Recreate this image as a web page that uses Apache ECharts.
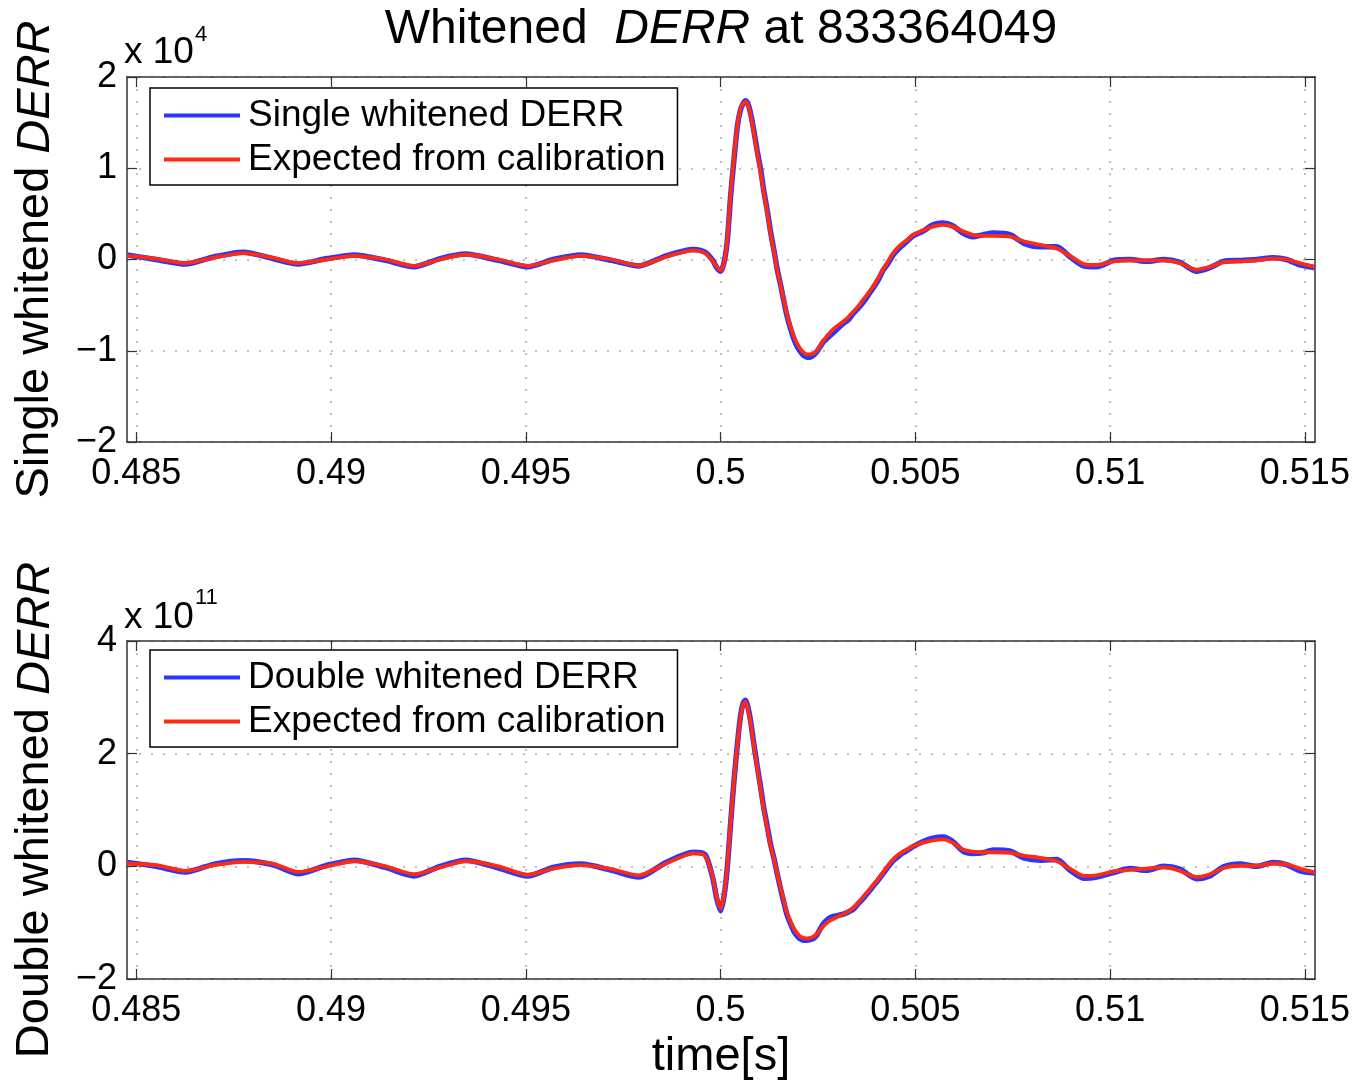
<!DOCTYPE html>
<html><head><meta charset="utf-8">
<script src="https://cdn.jsdelivr.net/npm/echarts@6/dist/echarts.min.js"></script>
<style>html,body{margin:0;padding:0;background:#fff}#c{width:1356px;height:1082px}</style>
</head><body><div id="c"></div>
<script>
// time [s]
const time = [
  0.48476, 0.4855, 0.48626, 0.4870, 0.48775, 0.4885, 0.48915, 0.4899, 0.4906, 0.4914,
  0.49213, 0.4928, 0.49345, 0.4943, 0.49505, 0.4957, 0.49642, 0.4972, 0.4979, 0.4986,
  0.4993, 0.4996, 0.4998, 0.4999, 0.5000, 0.50009, 0.50017, 0.50026, 0.50034, 0.50043,
  0.50051, 0.50058, 0.50064, 0.5007, 0.50077, 0.50085, 0.50094, 0.50103, 0.50111, 0.5012,
  0.50128, 0.50137, 0.50145, 0.50154, 0.50162, 0.5017, 0.50179, 0.50188, 0.50196, 0.50205,
  0.50213, 0.50222, 0.5023, 0.50238, 0.50247, 0.50255, 0.50264, 0.50277, 0.5029, 0.50302,
  0.50315, 0.50328, 0.50341, 0.50354, 0.50366, 0.50379, 0.50392, 0.50405, 0.50417, 0.5043,
  0.50443, 0.50455, 0.50468, 0.50481, 0.50494, 0.5052, 0.50545, 0.50571, 0.50596, 0.50622,
  0.50647, 0.50673, 0.5070, 0.50744, 0.50778, 0.50821, 0.50863, 0.50897, 0.50932, 0.50966,
  0.51009, 0.51051, 0.51094, 0.51137, 0.51179, 0.51222, 0.51256, 0.51291, 0.51333, 0.51376,
  0.51419, 0.51453, 0.51487, 0.51526
];
// Single whitened DERR (x 10^4)
const singleMeasured = [
  0.05, 0.00, -0.05, 0.03, 0.08, 0.01, -0.05, 0.01, 0.05, -0.01,
  -0.08, 0.01, 0.06, -0.01, -0.08, 0.00, 0.05, -0.01, -0.07, 0.04,
  0.11, 0.08, -0.01, -0.09, -0.13, -0.03, 0.20, 0.71, 1.08, 1.46,
  1.64, 1.71, 1.74, 1.71, 1.60, 1.42, 1.19, 0.98, 0.75, 0.53,
  0.31, 0.10, -0.10, -0.28, -0.45, -0.61, -0.75, -0.87, -0.95, -1.01,
  -1.05, -1.07, -1.07, -1.05, -1.01, -0.96, -0.90, -0.85, -0.80, -0.75,
  -0.70, -0.66, -0.59, -0.53, -0.47, -0.39, -0.31, -0.22, -0.12, -0.04,
  0.05, 0.11, 0.16, 0.21, 0.26, 0.31, 0.38, 0.40, 0.37, 0.29,
  0.25, 0.27, 0.29, 0.27, 0.18, 0.14, 0.14, 0.03, -0.07, -0.08,
  -0.01, 0.00, -0.02, 0.00, -0.03, -0.13, -0.09, -0.02, -0.01, 0.00,
  0.02, 0.00, -0.06, -0.09
];
const singleExpected = [
  0.04, 0.01, -0.04, 0.02, 0.07, 0.02, -0.04, 0.00, 0.04, 0.00,
  -0.07, 0.00, 0.055, 0.00, -0.07, -0.01, 0.04, 0.00, -0.066, 0.03,
  0.10, 0.07, -0.02, -0.08, -0.12, -0.04, 0.22, 0.73, 1.10, 1.47,
  1.65, 1.71, 1.73, 1.70, 1.58, 1.40, 1.17, 0.95, 0.73, 0.51,
  0.29, 0.09, -0.11, -0.28, -0.44, -0.59, -0.73, -0.84, -0.92, -0.98,
  -1.02, -1.04, -1.04, -1.03, -1.00, -0.95, -0.89, -0.82, -0.76, -0.72,
  -0.68, -0.63, -0.57, -0.51, -0.44, -0.37, -0.29, -0.20, -0.11, -0.02,
  0.07, 0.13, 0.18, 0.22, 0.27, 0.32, 0.36, 0.38, 0.36, 0.31,
  0.27, 0.26, 0.26, 0.25, 0.20, 0.16, 0.12, 0.04, -0.05, -0.06,
  -0.02, -0.01, -0.01, -0.01, -0.04, -0.11, -0.08, -0.03, -0.02, -0.01,
  0.01, 0.00, -0.04, -0.08
];
// Double whitened DERR (x 10^11)
const doubleMeasured = [
  0.07, 0.00, -0.10, 0.04, 0.10, 0.03, -0.13, 0.02, 0.11, -0.02,
  -0.17, 0.00, 0.11, -0.03, -0.17, -0.02, 0.04, -0.07, -0.19, 0.07,
  0.25, 0.21, -0.21, -0.57, -0.79, -0.52, -0.03, 0.79, 1.49, 2.16,
  2.66, 2.90, 2.95, 2.83, 2.58, 2.19, 1.78, 1.39, 1.03, 0.70,
  0.40, 0.14, -0.12, -0.40, -0.63, -0.85, -1.01, -1.15, -1.23, -1.29,
  -1.31, -1.31, -1.30, -1.28, -1.22, -1.12, -1.02, -0.93, -0.89, -0.87,
  -0.85, -0.81, -0.76, -0.66, -0.57, -0.46, -0.35, -0.24, -0.13, -0.01,
  0.10, 0.17, 0.24, 0.29, 0.35, 0.44, 0.50, 0.52, 0.44, 0.27,
  0.23, 0.24, 0.29, 0.27, 0.15, 0.11, 0.12, -0.07, -0.21, -0.19,
  -0.11, -0.04, -0.07, 0.00, -0.05, -0.22, -0.17, -0.01, 0.04, 0.00,
  0.07, 0.03, -0.08, -0.12
];
const doubleExpected = [
  0.05, 0.02, -0.08, 0.02, 0.08, 0.05, -0.10, 0.00, 0.09, 0.00,
  -0.14, -0.02, 0.09, 0.00, -0.15, -0.04, 0.02, -0.05, -0.16, 0.05,
  0.23, 0.19, -0.19, -0.54, -0.75, -0.50, 0.00, 0.81, 1.50, 2.15,
  2.64, 2.87, 2.92, 2.80, 2.55, 2.16, 1.75, 1.36, 1.00, 0.67,
  0.38, 0.13, -0.12, -0.38, -0.60, -0.81, -0.97, -1.10, -1.18, -1.25,
  -1.27, -1.28, -1.27, -1.25, -1.20, -1.13, -1.06, -0.98, -0.93, -0.89,
  -0.85, -0.80, -0.73, -0.64, -0.54, -0.44, -0.33, -0.22, -0.11, 0.01,
  0.12, 0.20, 0.26, 0.31, 0.36, 0.42, 0.46, 0.48, 0.42, 0.30,
  0.26, 0.25, 0.25, 0.24, 0.19, 0.15, 0.09, -0.04, -0.17, -0.16,
  -0.09, -0.06, -0.04, -0.02, -0.08, -0.19, -0.14, -0.03, 0.01, 0.01,
  0.05, 0.04, -0.04, -0.11
];
const xTicks = [0.485, 0.49, 0.495, 0.5, 0.505, 0.51, 0.515];
const xRange = [0.48476, 0.51526];
const singleYRange = [-2, 2, 1];
const doubleYRange = [-2, 4, 2];
const titleText = ['Whitened  ', 'DERR', ' at 833364049'];
const legendTop = ['Single whitened DERR', 'Expected from calibration'];
const legendBottom = ['Double whitened DERR', 'Expected from calibration'];
const yNames = [['Single whitened ', 'DERR'], ['Double whitened ', 'DERR']];
const multipliers = [['x 10', '4'], ['x 10', '11']];

const FONT = '"Liberation Sans", Arial, Helvetica, sans-serif';
const BLUE = '#2a35ff', RED = '#ff2a12', AX = '#333';
const pairs = arr => time.map((t, i) => [t, arr[i]]);
const minus = v => String(v).replace('-', '\u2212');

const grids = [
  {left: 127, top: 77, width: 1188, height: 365},
  {left: 127, top: 641, width: 1188, height: 339}
];

function xAxes(g, withName) {
  const common = {
    gridIndex: g, type: 'value', min: xRange[0], max: xRange[1],
    axisLine: {show: true, onZero: false, lineStyle: {color: AX, width: 1.5}},
    axisTick: {show: true, inside: true, length: 10, customValues: xTicks, lineStyle: {color: AX, width: 1.2}}
  };
  return [
    Object.assign({}, common, {
      position: 'bottom',
      axisLabel: {show: true, customValues: xTicks, formatter: v => String(+(+v).toFixed(3)),
        fontSize: 36, fontFamily: FONT, color: '#000', margin: 14, lineHeight: 36},
      splitLine: {show: true, lineStyle: {color: '#aaa', width: 1.5, type: [2, 10]}},
      name: withName ? 'time[s]' : '', nameLocation: 'middle', nameGap: 55,
      nameTextStyle: {fontSize: 47, fontFamily: FONT, color: '#000', lineHeight: 47}
    }),
    Object.assign({}, common, {position: 'top', axisLabel: {show: false}, splitLine: {show: false}})
  ];
}
function yAxes(g, r, names) {
  const common = {
    gridIndex: g, type: 'value', min: r[0], max: r[1], interval: r[2],
    axisLine: {show: true, onZero: false, lineStyle: {color: AX, width: 1.5}},
    axisTick: {show: true, inside: true, length: 10, lineStyle: {color: AX, width: 1.2}}
  };
  return [
    Object.assign({}, common, {
      position: 'left',
      axisLabel: {show: true, formatter: minus, fontSize: 36, fontFamily: FONT, color: '#000', margin: 10,
        showMinLabel: true, showMaxLabel: true},
      splitLine: {show: true, lineStyle: {color: '#aaa', width: 1.5, type: [2, 10]}},
      name: '{n|' + names[0] + '}{i|' + names[1] + '}', nameLocation: 'middle', nameRotate: 90, nameGap: 68,
      nameTextStyle: {fontSize: 47, fontFamily: FONT, color: '#000',
        rich: {n: {fontSize: 47, fontFamily: FONT, color: '#000'},
               i: {fontSize: 47, fontFamily: FONT, color: '#000', fontStyle: 'italic'}}}
    }),
    Object.assign({}, common, {position: 'right', axisLabel: {show: false}, splitLine: {show: false}})
  ];
}
function line(name, data, color, width, xi, yi, z) {
  return {type: 'line', name: name, data: data, xAxisIndex: xi, yAxisIndex: yi,
    showSymbol: false, symbol: 'none', smooth: 0.25, z: z,
    lineStyle: {color: color, width: width}, itemStyle: {color: color}};
}
function legend(names, top) {
  return {data: names, orient: 'vertical', left: 150, top: top, icon: 'rect',
    backgroundColor: '#fff', borderColor: '#000', borderWidth: 1.5,
    padding: [9, 12, 7, 14], itemWidth: 76, itemHeight: 4, itemGap: 7,
    textStyle: {fontSize: 37, fontFamily: FONT, color: '#000', lineHeight: 37, padding: [0, 0, 0, 3]},
    selectedMode: false};
}

const chart = echarts.init(document.getElementById('c'), null, {renderer: 'canvas'});
chart.setOption({
  animation: false,
  backgroundColor: '#fff',
  grid: grids,
  xAxis: xAxes(0, false).concat(xAxes(1, true)),
  yAxis: yAxes(0, singleYRange, yNames[0]).concat(yAxes(1, doubleYRange, yNames[1])),
  legend: [legend(legendTop, 88), legend(legendBottom, 650)],
  series: [
    line(legendTop[0], pairs(singleMeasured), BLUE, 5.5, 0, 0, 2),
    line(legendTop[1], pairs(singleExpected), RED, 3.8, 0, 0, 3),
    line(legendBottom[0], pairs(doubleMeasured), BLUE, 5.5, 2, 2, 2),
    line(legendBottom[1], pairs(doubleExpected), RED, 3.8, 2, 2, 3)
  ],
  graphic: [
    {type: 'text', x: 721, y: 6, style: {
      text: '{n|' + titleText[0] + '}{i|' + titleText[1] + '}{n|' + titleText[2] + '}',
      align: 'center', verticalAlign: 'top',
      rich: {n: {fontSize: 48, fontFamily: FONT, fill: '#000'},
             i: {fontSize: 48, fontFamily: FONT, fill: '#000', fontStyle: 'italic'}}}},
    {type: 'text', x: 124, y: 34, style: {text: multipliers[0][0], fontSize: 37, fontFamily: FONT, fill: '#000'}},
    {type: 'text', x: 195, y: 24, style: {text: multipliers[0][1], fontSize: 22, fontFamily: FONT, fill: '#000'}},
    {type: 'text', x: 124, y: 599, style: {text: multipliers[1][0], fontSize: 37, fontFamily: FONT, fill: '#000'}},
    {type: 'text', x: 195, y: 587, style: {text: multipliers[1][1], fontSize: 22, fontFamily: FONT, fill: '#000'}}
  ]
});
</script></body></html>
